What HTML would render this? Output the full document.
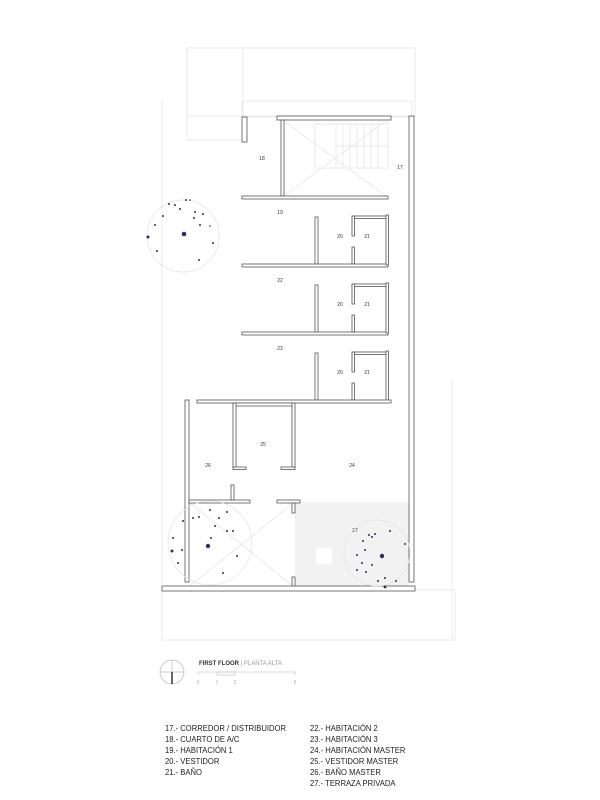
<!DOCTYPE html>
<html><head><meta charset="utf-8"><style>
html,body{margin:0;padding:0;background:#fff;}
svg{display:block}
.w{fill:#fff;stroke:#555;stroke-width:0.8}
.l{fill:none;stroke:#e2e2e2;stroke-width:0.7}
.t{font-family:"Liberation Sans",sans-serif;font-size:5px;fill:#333}
.lg{font-family:"Liberation Sans",sans-serif;font-size:8.5px;fill:#222}
.d{fill:#2a3060}
</style></head><body>
<svg width="600" height="800" viewBox="0 0 600 800" xmlns="http://www.w3.org/2000/svg">
<rect class="l" x="187" y="48" width="228" height="68"/>
<rect class="l" x="187" y="48" width="56" height="92"/>
<rect class="l" x="242" y="101" width="170" height="16"/>
<rect class="l" x="162" y="590" width="293" height="50"/>
<line class="l" x1="162" y1="100" x2="162" y2="590"/>
<line class="l" x1="452" y1="380" x2="452" y2="640"/>
<rect class="l" x="315" y="124" width="73" height="44"/>
<line class="l" x1="336" y1="124" x2="336" y2="168"/>
<line class="l" x1="336" y1="146" x2="388" y2="146"/>
<g class="l"><line x1="343" y1="124" x2="343" y2="168"/><line x1="350" y1="124" x2="350" y2="168"/><line x1="357" y1="124" x2="357" y2="168"/><line x1="364" y1="124" x2="364" y2="168"/><line x1="371" y1="124" x2="371" y2="168"/><line x1="378" y1="124" x2="378" y2="168"/></g>
<line class="l" x1="284" y1="196" x2="386" y2="121"/>
<line class="l" x1="284" y1="121" x2="386" y2="196"/>
<rect x="295" y="502" width="114" height="85" fill="#f2f2f2"/>
<rect x="316" y="548" width="16" height="16" fill="#fff"/>
<line class="l" x1="190" y1="503" x2="293" y2="586"/>
<line class="l" x1="190" y1="586" x2="293" y2="503"/>
<rect class="w" x="242" y="117" width="5" height="25"/>
<rect class="w" x="277" y="116" width="114" height="4"/>
<rect class="w" x="281" y="120" width="3" height="76"/>
<rect class="w" x="409" y="116" width="5" height="466"/>
<rect class="w" x="242" y="196" width="146" height="3"/>
<g id="row">
<rect class="w" x="242" y="264" width="146" height="3"/>
<rect class="w" x="315" y="217" width="3" height="47"/>
<rect class="w" x="352" y="216" width="36" height="2.5"/>
<rect class="w" x="352" y="216" width="2.5" height="20"/>
<rect class="w" x="352" y="247" width="2.5" height="17"/>
<rect class="w" x="386" y="215" width="2.5" height="50"/>
</g>
<use href="#row" y="68"/>
<g transform="translate(0,136)">
<rect class="w" x="315" y="217" width="3" height="47"/>
<rect class="w" x="352" y="216" width="36" height="2.5"/>
<rect class="w" x="352" y="216" width="2.5" height="20"/>
<rect class="w" x="352" y="247" width="2.5" height="17"/>
<rect class="w" x="386" y="215" width="2.5" height="50"/>
</g>
<rect class="w" x="197" y="400" width="194" height="3"/>
<rect class="w" x="185" y="400" width="4" height="182"/>
<rect class="w" x="233" y="403" width="61" height="3"/>
<rect class="w" x="233" y="403" width="3" height="66"/>
<rect class="w" x="292" y="403" width="3" height="66"/>
<rect class="w" x="233" y="467" width="13" height="2.5"/>
<rect class="w" x="281" y="467" width="14" height="2.5"/>
<rect class="w" x="189" y="500" width="61" height="3"/>
<rect class="w" x="231" y="485" width="3" height="15"/>
<rect class="w" x="277" y="500" width="23" height="3"/>
<rect class="w" x="292" y="503" width="3" height="10"/>
<rect class="w" x="292" y="577" width="3" height="10"/>
<rect class="w" x="162" y="586" width="253" height="5"/>
<g class="t" text-anchor="middle">
<text x="400" y="169">17</text><text x="262" y="160">18</text><text x="280" y="214">19</text>
<text x="340" y="238">20</text><text x="367" y="238">21</text>
<text x="280" y="282">22</text><text x="340" y="306">20</text><text x="367" y="306">21</text>
<text x="280" y="350">23</text><text x="340" y="374">20</text><text x="367" y="374">21</text>
<text x="263" y="446">25</text><text x="208" y="467">26</text><text x="352" y="467">24</text><text x="355" y="532">27</text>
</g>
<circle class="l" cx="183" cy="236" r="36"/>
<circle class="d" cx="184" cy="234" r="2.3"/>
<circle class="d" cx="148" cy="237" r="1.5"/>
<g class="d"><circle cx="169" cy="204" r="1"/><circle cx="175" cy="205" r="1"/><circle cx="186" cy="200" r="1"/><circle cx="195" cy="212" r="1"/><circle cx="194" cy="218" r="1"/><circle cx="203" cy="214" r="1"/><circle cx="200" cy="225" r="1"/><circle cx="180" cy="209" r="1"/><circle cx="163" cy="216" r="1"/><circle cx="155" cy="225" r="1"/><circle cx="157" cy="251" r="1"/><circle cx="213" cy="243" r="1"/><circle cx="199" cy="260" r="1"/><circle cx="190" cy="200" r="0.8"/><circle cx="210" cy="226" r="0.8"/></g>
<circle class="l" cx="210" cy="543" r="42"/>
<circle class="d" cx="208" cy="546" r="2.2"/><circle class="d" cx="172" cy="551" r="1.5"/>
<g class="d"><circle cx="193" cy="518" r="1"/><circle cx="199" cy="517" r="1"/><circle cx="210" cy="510" r="1"/><circle cx="219" cy="518" r="1"/><circle cx="227" cy="512" r="1"/><circle cx="227" cy="531" r="1"/><circle cx="233" cy="531" r="1"/><circle cx="183" cy="521" r="1"/><circle cx="173" cy="538" r="1"/><circle cx="182" cy="550" r="1"/><circle cx="178" cy="563" r="1"/><circle cx="237" cy="556" r="1"/><circle cx="223" cy="573" r="1"/><circle cx="215" cy="526" r="1"/><circle cx="211" cy="538" r="1"/></g>
<circle class="l" cx="377" cy="553" r="33"/>
<circle class="d" cx="382" cy="556" r="2.2"/><circle class="d" cx="385" cy="587" r="1.4"/>
<g class="d"><circle cx="369" cy="535" r="1"/><circle cx="375" cy="534" r="1"/><circle cx="390" cy="531" r="1"/><circle cx="405" cy="544" r="1"/><circle cx="363" cy="541" r="1"/><circle cx="365" cy="550" r="1"/><circle cx="362" cy="563" r="1"/><circle cx="357" cy="570" r="1"/><circle cx="357" cy="555" r="1"/><circle cx="366" cy="572" r="1"/><circle cx="385" cy="578" r="1"/><circle cx="396" cy="581" r="1"/><circle cx="378" cy="581" r="1"/><circle cx="372" cy="565" r="1"/><circle cx="372" cy="537" r="1"/></g>
<circle cx="172" cy="672" r="12" fill="none" stroke="#bbb" stroke-width="0.7"/>
<line x1="160" y1="672" x2="184" y2="672" stroke="#bbb" stroke-width="0.7"/>
<line x1="172" y1="660" x2="172" y2="684" stroke="#bbb" stroke-width="0.7"/>
<line x1="172" y1="672" x2="172" y2="684" stroke="#333" stroke-width="1.5"/>
<text x="199" y="665" font-family="Liberation Sans,sans-serif" font-size="6" font-weight="bold" fill="#333">FIRST FLOOR <tspan font-weight="normal" fill="#999">| PLANTA ALTA</tspan></text>
<polyline points="198,675 198,672 295,672 295,675" fill="none" stroke="#bbb" stroke-width="0.6"/>
<rect x="217" y="672" width="18" height="3" fill="none" stroke="#bbb" stroke-width="0.6"/>
<g font-family="Liberation Sans,sans-serif" font-size="5" fill="#aaa" text-anchor="middle"><text x="198" y="684">0</text><text x="217" y="684">1</text><text x="235" y="684">2</text><text x="295" y="684">5</text></g>
<g class="lg" transform="translate(165,0) scale(0.9,1) translate(-165,0)">
<text x="165" y="731">17.- CORREDOR / DISTRIBUIDOR</text>
<text x="165" y="742">18.- CUARTO DE A/C</text>
<text x="165" y="753">19.- HABITACIÓN 1</text>
<text x="165" y="764">20.- VESTIDOR</text>
<text x="165" y="775">21.- BAÑO</text>
</g>
<g class="lg" transform="translate(310,0) scale(0.9,1) translate(-310,0)">
<text x="310" y="731">22.- HABITACIÓN 2</text>
<text x="310" y="742">23.- HABITACIÓN 3</text>
<text x="310" y="753">24.- HABITACIÓN MASTER</text>
<text x="310" y="764">25.- VESTIDOR MASTER</text>
<text x="310" y="775">26.- BAÑO MASTER</text>
<text x="310" y="786">27.- TERRAZA PRIVADA</text>
</g>
</svg>
</body></html>
